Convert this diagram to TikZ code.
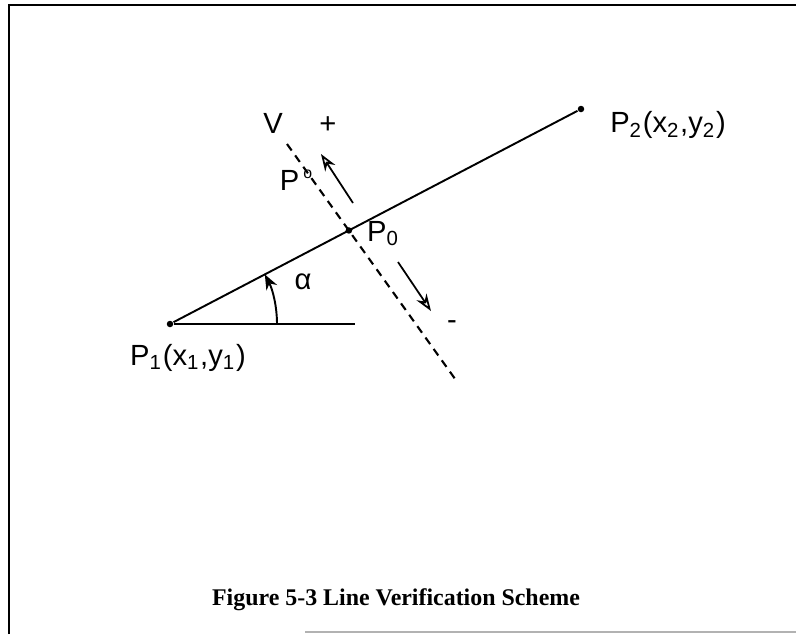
\documentclass[tikz,border=0pt]{standalone}
\usepackage{fontspec}
\setmainfont{Liberation Sans}
\newfontfamily\capfont{Liberation Serif}
\usetikzlibrary{arrows.meta,positioning,calc}

\begin{document}
\begin{tikzpicture}[
  dot/.style={circle, fill, inner sep=0pt, minimum size=0.65mm},
  lbl/.style={font=\fontsize{8.3}{10}\selectfont, inner sep=1pt},
  seg/.style={line width=0.55pt},
  vline/.style={dashed, dash pattern=on 0.8mm off 0.6mm, line width=0.6pt},
  dirarrow/.style={-{Stealth[open, length=1.7mm, width=1.2mm]}, line width=0.5pt}
]
  \useasboundingbox (0,0) rectangle (7.96,-6.34);
  % frame
  \draw[line width=0.8pt] (0.09,-6.34) |- (7.96,-0.05);
  \draw[gray!60, line width=0.4pt] (3.05,-6.32) -- (7.96,-6.32);

  % points
  \node[dot] (p1) at (1.70,-3.24) {};
  \node[dot] (p2) at (5.81,-1.09) {};
  \coordinate (hend) at (3.55,-3.24);
  \coordinate (va) at (2.87,-1.44);
  \coordinate (vb) at (4.58,-3.83);
  \node[dot] (p0) at (intersection of p1--p2 and va--vb) {};

  % lines
  \draw[seg] (p1) -- (p2);
  \draw[seg] (p1) -- (hend);
  \draw[vline] (va) -- (vb);
  \draw[seg, -{Stealth[length=1.5mm, width=1.2mm]}] ($(p1)+(1.07,0)$) arc[start angle=0, end angle=27.6, radius=1.07];

  % direction arrows
  \coordinate (upa) at (3.53,-2.03);
  \coordinate (upb) at (3.21,-1.54);
  \coordinate (dna) at (3.98,-2.62);
  \coordinate (dnb) at (4.31,-3.11);
  \draw[dirarrow] (upa) -- (upb);
  \draw[dirarrow] (dna) -- (dnb);

  % labels
  \node[lbl] (p1lab) at (1.88,-3.58) {P\textsubscript{1}(x\textsubscript{1},y\textsubscript{1})};
  \node[lbl] (p2lab) at (6.68,-1.25) {P\textsubscript{2}(x\textsubscript{2},y\textsubscript{2})};
  \node[lbl, right=0.1 of p0, yshift=-0.3mm] (p0lab) {P\textsubscript{0}};
  \node[lbl] (vlab) at (2.73,-1.23) {V};
  \node[lbl] (plus) at (3.28,-1.25) {+};
  \node[lbl] (minus) at (4.52,-3.25) {-};
  \node[lbl] (pprime) at (2.96,-1.80) {P\hspace{0.4mm}\raisebox{1.2mm}{\fontsize{4.5}{5}\selectfont o}};
  \node[lbl] (alpha) at (3.03,-2.82) {α};

  \node[font=\capfont\bfseries\fontsize{6.8}{8}\selectfont] (caption) at (3.96,-6.00) {Figure 5-3 Line Verification Scheme};
\end{tikzpicture}
\end{document}
